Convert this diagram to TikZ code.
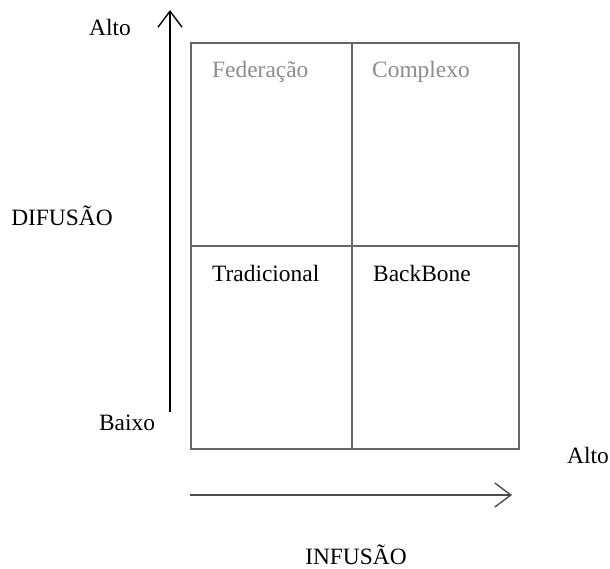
\documentclass[tikz,border=0pt]{standalone}
\usepackage{fontspec}
\setmainfont{Liberation Serif}
\usetikzlibrary{arrows.meta}
\begin{document}
\begin{tikzpicture}[x=1bp,y=-1bp,
  lbl/.style={font=\fontsize{23.5}{26}\selectfont, inner sep=0pt},
  faint/.style={lbl, text=black!45},
  grid/.style={draw=black!60, line width=1.6bp},
  axis/.style={line width=1.6bp, -{Straight Barb[length=16bp,width=24bp,line width=1.4bp]}}]
\useasboundingbox (0,0) rectangle (610,569);
% quadrant frame
\coordinate (tl) at (191,43);
\coordinate (br) at (519,449);
\draw[grid] (tl) rectangle (br);
\draw[grid] (191,246) -- (519,246);
\draw[grid] (352,43) -- (352,449);
% quadrant labels
\node[faint, anchor=west] (fed) at (212,72) {Federação};
\node[faint, anchor=west] (comp) at (372,72) {Complexo};
\node[lbl, anchor=west] (trad) at (212,273) {Tradicional};
\node[lbl, anchor=west] (bb) at (373,273) {BackBone};
% axes
\coordinate (vs) at (170,412);
\coordinate (ve) at (170,10);
\draw[axis, black] (vs) -- (ve);
\coordinate (hs) at (190,495);
\coordinate (he) at (512,495);
\draw[axis, black!70] (hs) -- (he);
% axis labels
\node[lbl] (altoy) at (110,27) {Alto};
\node[lbl] (dif) at (62,216) {DIFUSÃO};
\node[lbl] (baixo) at (127,423) {Baixo};
\node[lbl] (altox) at (588,455) {Alto};
\node[lbl] (inf) at (356,555) {INFUSÃO};
\end{tikzpicture}
\end{document}
